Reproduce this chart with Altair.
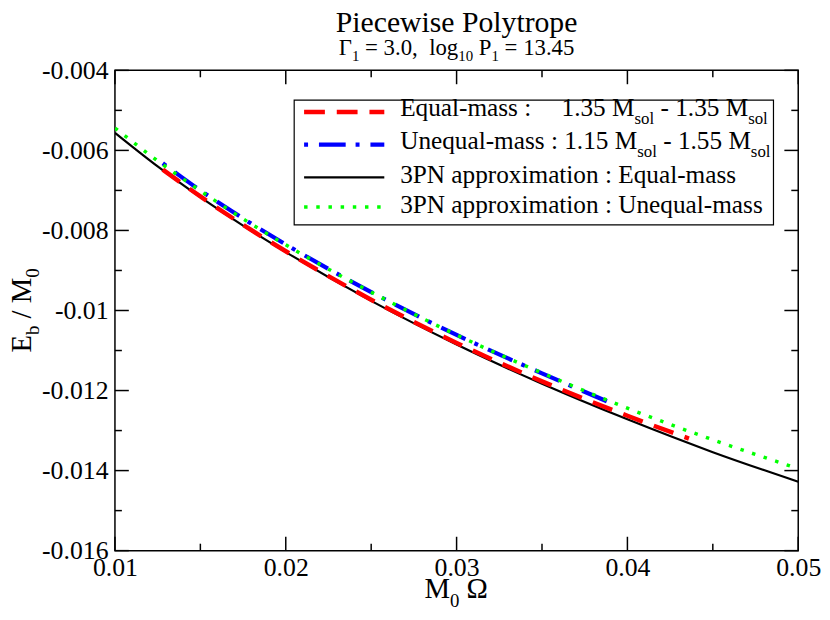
import altair as alt
import pandas as pd

# ---------------- data ----------------
# 3PN approximation : Equal-mass (black solid)
pn_eq_x = [0.01, 0.0125, 0.015, 0.0175, 0.02, 0.025, 0.03, 0.035, 0.04, 0.045, 0.05]
pn_eq_y = [-0.00556, -0.00640, -0.00717, -0.00788, -0.00854, -0.00976, -0.01085, -0.01183, -0.01272, -0.01354, -0.01428]
# 3PN approximation : Unequal-mass (green dotted)
pn_uneq_x = [0.01, 0.0125, 0.015, 0.0175, 0.02, 0.025, 0.03, 0.035, 0.04, 0.045, 0.05]
pn_uneq_y = [-0.00544, -0.00626, -0.00701, -0.00771, -0.00836, -0.00954, -0.01061, -0.01156, -0.01244, -0.01323, -0.01395]
# Equal-mass 1.35 - 1.35 (red dashed)
eq_x = [0.0128, 0.015, 0.0175, 0.02, 0.025, 0.03, 0.035, 0.04, 0.0436]
eq_y = [-0.00648, -0.00715, -0.00786, -0.00852, -0.00973, -0.01081, -0.01177, -0.01263, -0.01320]
# Unequal-mass 1.15 - 1.55 (blue dash-dot)
uneq_x = [0.0128, 0.015, 0.0175, 0.02, 0.025, 0.03, 0.035, 0.0388]
uneq_y = [-0.00632, -0.00700, -0.00770, -0.00835, -0.00954, -0.01061, -0.01157, -0.01227]

x_major = [0.01, 0.02, 0.03, 0.04, 0.05]
x_minor = [0.015, 0.025, 0.035, 0.045]
y_major = [-0.016, -0.014, -0.012, -0.01, -0.008, -0.006, -0.004]
y_minor = [-0.015, -0.013, -0.011, -0.009, -0.007, -0.005]

FONT = "Liberation Serif"
W, H = 690, 485

xsc = alt.Scale(domain=[0.01, 0.05], nice=False, zero=False)
ysc = alt.Scale(domain=[-0.016, -0.004], nice=False, zero=False)
LABEL = "replace(format(datum.value, '~g'), '\u2212', '-')"
xaxis = alt.Axis(values=x_major, labelExpr=LABEL, ticks=False, domain=False, grid=False,
                 labelFont=FONT, labelFontSize=26, labelColor="black", labelPadding=4,
                 title=None, labelFlush=False)
yaxis = alt.Axis(values=y_major, labelExpr=LABEL, ticks=False, domain=False, grid=False,
                 labelFont=FONT, labelFontSize=26, labelColor="black", labelPadding=7,
                 title=None)

def X():
    return alt.X("x:Q", scale=xsc, axis=xaxis)

def Y():
    return alt.Y("y:Q", scale=ysc, axis=yaxis)

def curve(xs, ys, color, width, dash=None):
    kw = dict(color=color, strokeWidth=width, interpolate="monotone", clip=True, strokeCap="butt")
    if dash:
        kw["strokeDash"] = dash
    return alt.Chart(pd.DataFrame({"x": xs, "y": ys})).mark_line(**kw).encode(x=X(), y=Y())

layers = []
layers.append(curve(pn_eq_x, pn_eq_y, "black", 2.2))
layers.append(curve(eq_x, eq_y, "#ff0000", 4.5, [21, 12]))
layers.append(curve(uneq_x, uneq_y, "#0000ff", 4.2, [4, 11, 27, 10]))
layers.append(curve(pn_uneq_x, pn_uneq_y, "#00ff00", 3.5, [3.5, 8.8]))

# ---------------- inward ticks on all four sides ----------------
def yticks(vals, length):
    df = pd.DataFrame({"y": vals})
    a = alt.Chart(df).mark_rule(color="black", strokeWidth=1.5).encode(
        y=Y(), x=alt.value(0), x2=alt.value(length))
    b = alt.Chart(df).mark_rule(color="black", strokeWidth=1.5).encode(
        y=Y(), x=alt.value(W - length), x2=alt.value(W))
    return [a, b]

def xticks(vals, length):
    df = pd.DataFrame({"x": vals})
    a = alt.Chart(df).mark_rule(color="black", strokeWidth=1.5).encode(
        x=X(), y=alt.value(H - length), y2=alt.value(H))
    b = alt.Chart(df).mark_rule(color="black", strokeWidth=1.5).encode(
        x=X(), y=alt.value(0), y2=alt.value(length))
    return [a, b]

layers += yticks(y_major, 14) + yticks(y_minor, 7) + xticks(x_major, 14) + xticks(x_minor, 7)

# ---------------- text helpers (for sub-scripted labels) ----------------
TW = {' ': 250, ',': 250, '-': 333, '.': 250, '/': 278, ':': 278, '=': 564,
      'A': 722, 'E': 611, 'M': 889, 'N': 722, 'P': 556, 'U': 722,
      'a': 444, 'b': 500, 'c': 444, 'e': 444, 'g': 500, 'i': 278, 'l': 278, 'm': 778,
      'n': 500, 'o': 500, 'p': 500, 'q': 500, 'r': 333, 's': 389, 't': 278, 'u': 500,
      'w': 722, 'x': 500, 'y': 500, '\u0393': 578, '\u03a9': 768}
for d in "0123456789":
    TW[d] = 500

def tw(s, fs):
    return sum(TW.get(c, 500) for c in s) / 1000.0 * fs

one = pd.DataFrame({"k": [0]})

def txt(t, x, y, fs, angle=0, align="left"):
    mk = dict(font=FONT, fontSize=fs, align=align, baseline="alphabetic", color="black")
    if angle:
        mk["angle"] = angle
    return alt.Chart(one).mark_text(**mk).encode(
        x=alt.value(x), y=alt.value(y), text=alt.value(t))

def run(pieces, x0, y0, fs, sfs, soff, rotated=False):
    out = []
    pos = 0.0
    for t, sub in pieces:
        f = sfs if sub else fs
        lead = len(t) - len(t.lstrip(" "))
        shown = t.strip(" ").replace("  ", "\u00a0\u00a0")
        p = pos + tw(t[:lead], f)
        if rotated:
            out.append(txt(shown, x0 + (soff if sub else 0), y0 - p, f, angle=270))
        else:
            out.append(txt(shown, x0 + p, y0 + (soff if sub else 0), f))
        pos += tw(t, f)
    return out

def total(pieces, fs, sfs):
    return sum(tw(t, sfs if s else fs) for t, s in pieces)

# title + subtitle
layers.append(txt("Piecewise Polytrope", W / 2, -39, 30, align="center"))
sub_p = [("\u0393", 0), ("1", 1), (" = 3.0,  log", 0), ("10", 1), (" P", 0), ("1", 1), (" = 13.45", 0)]
layers += run(sub_p, W / 2 - total(sub_p, 23, 15) / 2, -16, 23, 15, 7)

# axis titles
xt = [("M", 0), ("0", 1), (" \u03a9", 0)]
layers += run(xt, W / 2 - total(xt, 29, 19) / 2, 533, 29, 19, 9)
yt = [("E", 0), ("b", 1), (" / M", 0), ("0", 1)]
layers += run(yt, -85, H / 2 + total(yt, 29, 19) / 2, 29, 19, 8, rotated=True)

# ---------------- legend ----------------
layers.append(alt.Chart(one).mark_rect(fill="white", stroke="black", strokeWidth=1.2).encode(
    x=alt.value(181), x2=alt.value(665), y=alt.value(30), y2=alt.value(156)))

def sample(y, color, width, dash=None):
    kw = dict(color=color, strokeWidth=width, strokeCap="butt")
    if dash:
        kw["strokeDash"] = dash
    return alt.Chart(one).mark_rule(**kw).encode(
        x=alt.value(191), x2=alt.value(272), y=alt.value(y))

layers.append(sample(42, "#ff0000", 4.5, [21, 12]))
layers.append(sample(75, "#0000ff", 4.2, [4, 11, 27, 10]))
layers.append(sample(108, "black", 2.2))
layers.append(sample(138, "#00ff00", 3.5, [3.5, 8.8]))

LF, LS, LO = 25.5, 17, 8
layers += run([("Equal-mass :", 0)], 288, 46, LF, LS, LO)
layers += run([("1.35 M", 0), ("sol", 1), (" - 1.35 M", 0), ("sol", 1)], 451, 46, LF, LS, LO)
layers += run([("Unequal-mass : 1.15 M", 0), ("sol", 1), (" - 1.55 M", 0), ("sol", 1)], 288, 79, LF, LS, LO)
layers += run([("3PN approximation : Equal-mass", 0)], 288, 114, LF, LS, LO)
layers += run([("3PN approximation : Unequal-mass", 0)], 288, 144, LF, LS, LO)

chart = alt.layer(*layers).properties(
    width=W, height=H,
    autosize=alt.AutoSizeParams(type="none"),
    padding={"left": 108, "top": 60, "right": 24, "bottom": 59},
).configure_view(stroke="black", strokeWidth=1.5).configure_axis(
    labelFont=FONT, labelFontSize=26, labelColor="black"
).configure_text(font=FONT)

chart.save("out.html", embed_options={"renderer": "svg", "actions": False})
